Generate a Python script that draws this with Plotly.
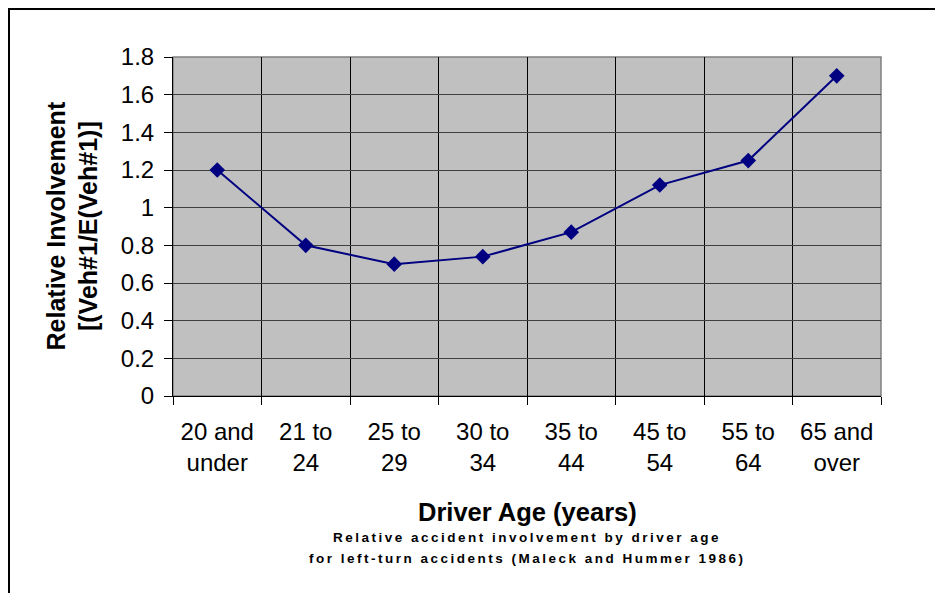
import plotly.graph_objects as go

categories = ["20 and<br>under", "21 to<br>24", "25 to<br>29", "30 to<br>34",
              "35 to<br>44", "45 to<br>54", "55 to<br>64", "65 and<br>over"]
involvement = [1.20, 0.80, 0.70, 0.74, 0.87, 1.12, 1.25, 1.70]
y_ticks = [0, 0.2, 0.4, 0.6, 0.8, 1, 1.2, 1.4, 1.6, 1.8]

# page body has an 8px margin: figure drawn in window from (8, 8)
OFF = 8
W, H = 943 - 2 * OFF, 593 - OFF
L = 173 - OFF
T = 57 - OFF
R = W - (881 - OFF)
B = H - (396 - OFF)
PW, PH = W - L - R, H - T - B

def px_x(px):
    return (px - OFF - L) / PW

def px_y(py):
    return (H - B - (py - OFF)) / PH

FONT = "Liberation Sans, Arial, sans-serif"

fig = go.Figure()
fig.add_trace(go.Scatter(
    x=categories, y=involvement, mode="lines+markers",
    line=dict(color="#000080", width=2),
    marker=dict(symbol="diamond", size=12, color="#000080"),
    showlegend=False, cliponaxis=False,
))

fig.update_layout(
    width=W, height=H,
    margin=dict(l=L, r=R, t=T, b=B, pad=0),
    paper_bgcolor="white", plot_bgcolor="#C0C0C0",
    font=dict(family=FONT, color="black", size=24),
    xaxis=dict(
        type="category", tickson="boundaries", showgrid=True,
        gridcolor="#000000", gridwidth=1,
        ticks="outside", ticklen=8, tickcolor="black",
        showline=True, linecolor="black", linewidth=1,
        tickfont=dict(size=24), ticklabelstandoff=14,
        range=[-0.5, 7.5], fixedrange=True,
    ),
    yaxis=dict(
        range=[0, 1.8], tickvals=y_ticks,
        ticktext=[f"{v:g}" for v in y_ticks],
        showgrid=True, gridcolor="#404040", gridwidth=1,
        ticks="outside", ticklen=8, tickcolor="black",
        showline=True, linecolor="black", linewidth=1,
        tickfont=dict(size=24), ticklabelstandoff=5,
        zeroline=False, fixedrange=True,
    ),
    shapes=[
        dict(type="rect", xref="paper", yref="paper", x0=0, x1=1, y0=0, y1=1,
             line=dict(color="#808080", width=1.5), layer="below"),
        dict(type="line", xref="paper", yref="paper",
             x0=px_x(OFF), x1=px_x(960), y0=px_y(OFF + 1), y1=px_y(OFF + 1),
             line=dict(color="black", width=2)),
        dict(type="line", xref="paper", yref="paper",
             x0=px_x(OFF + 1), x1=px_x(OFF + 1), y0=px_y(OFF), y1=px_y(620),
             line=dict(color="black", width=2)),
    ],
    annotations=[
        dict(text="<b>Relative Involvement<br>[(Veh#1/E(Veh#1)]</b>",
             xref="paper", yref="paper", x=px_x(72), y=0.5,
             xanchor="center", yanchor="middle", textangle=-90,
             showarrow=False, font=dict(size=25)),
        dict(text="<b>Driver Age (years)</b>",
             xref="paper", yref="paper", x=0.5, y=px_y(512),
             xanchor="center", yanchor="middle",
             showarrow=False, font=dict(size=25.5)),
        dict(text="<b><span style='letter-spacing:2.5px'>Relative accident involvement by driver age</span></b>",
             xref="paper", yref="paper", x=0.5, y=px_y(537),
             xanchor="center", yanchor="middle",
             showarrow=False, font=dict(size=13.5)),
        dict(text="<b><span style='letter-spacing:2.5px'>for left-turn accidents (Maleck and Hummer 1986)</span></b>",
             xref="paper", yref="paper", x=0.5, y=px_y(558),
             xanchor="center", yanchor="middle",
             showarrow=False, font=dict(size=13.5)),
    ],
)

fig.write_html("out.html")
